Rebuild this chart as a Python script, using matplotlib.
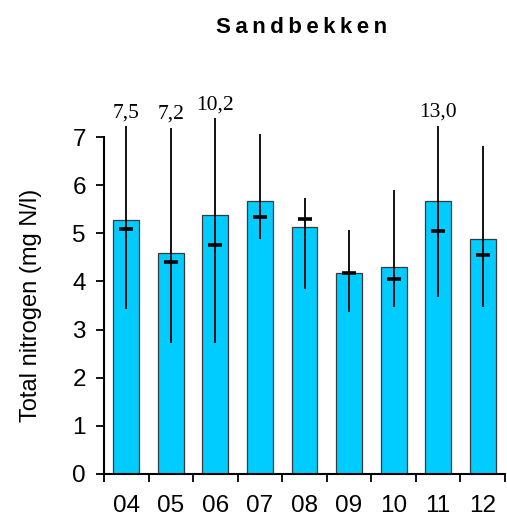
import matplotlib.pyplot as plt
import numpy as np

# values
years = ['04', '05', '06', '07', '08', '09', '10', '11', '12']
bar_vals = [5.27, 4.60, 5.39, 5.68, 5.14, 4.18, 4.30, 5.68, 4.89]
mean_vals = [5.08, 4.41, 4.75, 5.34, 5.30, 4.17, 4.05, 5.04, 4.54]
min_vals = [3.42, 2.72, 2.72, 4.88, 3.84, 3.37, 3.47, 3.67, 3.47]
# whisker tops as drawn (clipped just above the axis for the big ones)
max_vals = [7.22, 7.19, 7.39, 7.07, 5.73, 5.07, 5.90, 7.23, 6.82]
max_labels = ['7,5', '7,2', '10,2', '', '', '', '', '13,0', '']

fig = plt.figure(figsize=(5.07, 5.20), dpi=100)
ax = fig.add_axes([104/507, 46/520, 401/507, 337/520])

x = np.arange(len(years))
ax.bar(x, bar_vals, width=0.58, color='#00CCFF', edgecolor='#3a3a3a',
       linewidth=0.9, zorder=2)
ax.vlines(x, min_vals, max_vals, color='black', linewidth=1.3, zorder=3,
          clip_on=False)
ax.plot(x, mean_vals, linestyle='none', marker='_', markersize=10,
        markeredgewidth=2.6, color='black', zorder=4)

for xi, top, lab in zip(x, max_vals, max_labels):
    if lab:
        ax.annotate(lab, (xi, top), xytext=(0, 6.5), textcoords='offset points',
                    ha='center', va='baseline', fontsize=15.5,
                    family='Liberation Serif', annotation_clip=False)

ax.set_xlim(-0.5, len(years) - 0.5)
ax.set_ylim(0, 7)
ax.spines['top'].set_visible(False)
ax.spines['right'].set_visible(False)
ax.spines['left'].set_linewidth(1.5)
ax.spines['bottom'].set_linewidth(1.5)

ax.set_yticks(range(8))
ax.tick_params(axis='y', direction='out', length=6, width=1.3, pad=7,
               labelsize=17.5)
for t in ax.get_yticklabels():
    t.set_family('Liberation Sans')

# category labels in the middle, ticks on the boundaries
ax.set_xticks(x)
ax.set_xticklabels(years, family='Liberation Sans')
ax.tick_params(axis='x', which='major', length=0, pad=15, labelsize=17.5)
ax.set_xticks(np.arange(-0.5, len(years)), minor=True)
ax.tick_params(axis='x', which='minor', direction='out', length=6, width=1.3)

ax.set_ylabel('Total nitrogen (mg N/l)', family='Liberation Sans',
              fontsize=17, labelpad=22)
fig.text(0.594, 0.948, '\u2009'.join('Sandbekken'), ha='center', va='center',
         family='Liberation Sans', fontweight='bold', fontsize=16)

fig.savefig('out.png', dpi=100)
